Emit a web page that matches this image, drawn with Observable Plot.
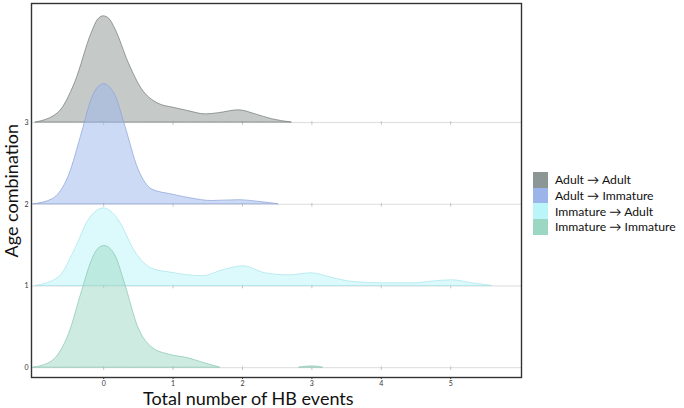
<!DOCTYPE html>
<html>
<head>
<meta charset="utf-8">
<script src="https://cdn.jsdelivr.net/npm/d3@7"></script>
<script src="https://cdn.jsdelivr.net/npm/@observablehq/plot@0.6"></script>
<style>
  body { margin: 0; background: #fff; }
  #wrap { position: relative; width: 684px; height: 408px; font-family: Lato, "Open Sans", sans-serif; }
  #wrap svg { position: absolute; left: 0; top: 0; }
  .xlab { position: absolute; left: 143px; top: 387px; width: 207px; text-align: center; font-size: 18px; color: #111; white-space: nowrap; }
  .ylab { position: absolute; left: -56px; top: 180px; width: 133px; text-align: center; font-size: 18px; color: #111; white-space: nowrap; transform: rotate(-90deg); }
  .legend { position: absolute; left: 533px; top: 172px; font-size: 12.2px; color: #111; }
  .legend .row { display: flex; align-items: center; height: 15.7px; }
  .legend .sw { width: 15px; height: 15.7px; margin-right: 7px; }
</style>
</head>
<body>
<div id="wrap"></div>
<script>
// Series (top ridge to bottom ridge)
const seriesNames = ["Adult → Adult", "Adult → Immature", "Immature → Adult", "Immature → Immature"];
const baselines = [3, 2, 1, 0];
const xTicks = [0, 1, 2, 3, 4, 5];
const yTicks = [0, 1, 2, 3];
const fillColors = ["#8c9694", "#9bb5eb", "#b9f5f9", "#9bd7c3"];
const strokeColors = ["#6e7876", "#8aa2d8", "#a6e4ea", "#86c6b0"];

// Density heights (ridge units above each baseline)
const aaX = [-0.98, -0.65, -0.41, -0.17, -0.08, 0, 0.08, 0.17, 0.36, 0.55, 0.79, 1.01, 1.22, 1.47, 1.66, 1.95, 2.19, 2.43, 2.71];
const aaH = [0, 0.12, 0.49, 1.10, 1.26, 1.30, 1.27, 1.14, 0.73, 0.41, 0.23, 0.18, 0.14, 0.10, 0.115, 0.15, 0.10, 0.04, 0];

const aiX = [-1.01, -0.74, -0.50, -0.31, -0.17, -0.08, 0.01, 0.09, 0.17, 0.31, 0.50, 0.70, 0.98, 1.27, 1.56, 1.95, 2.23, 2.52];
const aiH = [0, 0.06, 0.35, 0.88, 1.29, 1.43, 1.47, 1.43, 1.33, 0.96, 0.43, 0.18, 0.12, 0.07, 0.04, 0.05, 0.03, 0];

const iaX = [-0.98, -0.65, -0.41, -0.22, -0.1, 0, 0.1, 0.22, 0.46, 0.70, 0.99, 1.42, 1.75, 2.02, 2.33, 2.67, 3.00, 3.29, 3.58, 4.01, 4.49, 4.73, 5.02, 5.31, 5.60];
const iaH = [0, 0.10, 0.45, 0.80, 0.915, 0.95, 0.915, 0.80, 0.41, 0.21, 0.16, 0.12, 0.20, 0.24, 0.155, 0.13, 0.155, 0.10, 0.05, 0.033, 0.033, 0.053, 0.07, 0.033, 0];

const iiX = [-1.01, -0.74, -0.50, -0.31, -0.17, -0.08, 0.01, 0.09, 0.17, 0.31, 0.50, 0.70, 0.94, 1.22, 1.47, 1.68, 2.30, 2.82, 2.92, 3.00, 3.08, 3.16];
const iiH = [0, 0.08, 0.41, 0.94, 1.31, 1.45, 1.49, 1.46, 1.37, 1.02, 0.49, 0.245, 0.16, 0.115, 0.05, 0, NaN, 0, 0.012, 0.016, 0.012, 0];

const xs = [aaX, aiX, iaX, iiX];
const hs = [aaH, aiH, iaH, iiH];

const ridges = seriesNames.map((name, i) =>
  xs[i].map((x, j) => ({series: name, x, base: baselines[i], top: baselines[i] + hs[i][j]}))
);
const tickGrid = baselines.flatMap(b => xTicks.map(x => ({x, b})));

const marks = [
  Plot.ruleY(baselines, {stroke: "#dcdcdc", strokeWidth: 1}),
  Plot.ruleX(tickGrid, {x: "x", y1: d => d.b - 0.035, y2: d => d.b + 0.012, stroke: "#c4c4c4", strokeWidth: 1})
];
ridges.forEach((data, i) => {
  marks.push(Plot.areaY(data, {
    x: "x", y1: "base", y2: "top",
    fill: fillColors[i], fillOpacity: 0.5,
    stroke: strokeColors[i], strokeWidth: 0.7,
    curve: "monotone-x"
  }));
});
marks.push(Plot.frame({stroke: "#333", strokeWidth: 1.4}));

const chart = Plot.plot({
  width: 684,
  height: 408,
  marginLeft: 31,
  marginRight: 163,
  marginTop: 3,
  marginBottom: 31,
  style: {fontFamily: "Lato, sans-serif", background: "#fff", color: "#333"},
  x: {domain: [-1.04, 6.02], ticks: xTicks, tickSize: 2, tickPadding: 2, label: null, tickFormat: d3.format("d")},
  y: {domain: [-0.12, 4.457], ticks: yTicks, tickSize: 0, tickPadding: 3, label: null, tickFormat: d3.format("d")},
  marks
});
chart.querySelectorAll("g[aria-label$='tick label']").forEach(g => g.setAttribute("font-size", "7"));

const wrap = document.getElementById("wrap");
wrap.appendChild(chart);

const xl = document.createElement("div");
xl.className = "xlab";
xl.textContent = "Total number of HB events";
wrap.appendChild(xl);

const yl = document.createElement("div");
yl.className = "ylab";
yl.textContent = "Age combination";
wrap.appendChild(yl);

const lg = document.createElement("div");
lg.className = "legend";
seriesNames.forEach((name, i) => {
  const row = document.createElement("div");
  row.className = "row";
  const sw = document.createElement("div");
  sw.className = "sw";
  sw.style.background = fillColors[i];
  const tx = document.createElement("span");
  tx.textContent = name;
  row.appendChild(sw);
  row.appendChild(tx);
  lg.appendChild(row);
});
wrap.appendChild(lg);
</script>
</body>
</html>
